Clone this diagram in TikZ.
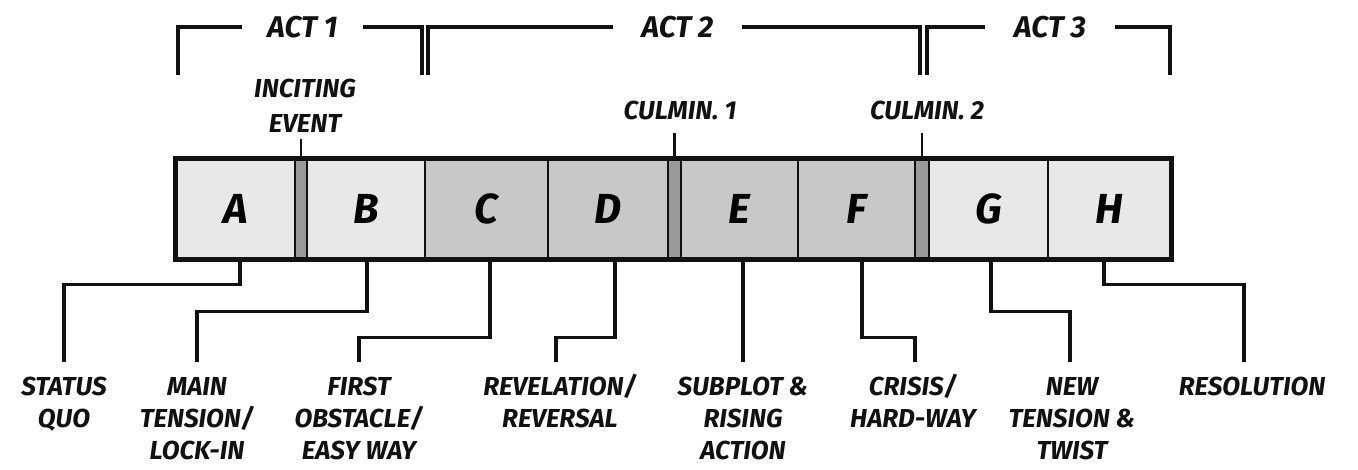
\documentclass[tikz,border=0pt]{standalone}
\usepackage{fontspec}
\setmainfont{Fira Sans}
\definecolor{segLight}{HTML}{E8E8E8}
\definecolor{segMid}{HTML}{C8C8C8}
\definecolor{segDark}{HTML}{9A9A9A}
\definecolor{ink}{HTML}{111111}
\newcommand\myslash{\smash{/}}
\begin{document}
\begin{tikzpicture}[x=1pt,y=-1pt,
  seg/.style={draw=ink, line width=2.6pt, minimum height=98pt, inner sep=0pt,
    font=\fontsize{42}{42}\selectfont\bfseries\itshape},
  light/.style={seg, fill=segLight},
  mid/.style={seg, fill=segMid},
  stripbox/.style={seg, fill=segDark},
  lab/.style={font=\fontsize{26}{32}\selectfont\bfseries\itshape, text=ink,
    align=center, inner xsep=0pt, inner ysep=15pt, anchor=north},
  marker/.style={font=\fontsize{26}{35}\selectfont\bfseries\itshape, text=ink,
    align=center, inner xsep=0pt},
  acttitle/.style={font=\fontsize{30}{30}\selectfont\bfseries\itshape, text=ink,
    inner sep=0pt},
  conn/.style={draw=ink, line width=3.2pt},
  brk/.style={draw=ink, line width=3.2pt},
  tick/.style={draw=ink, line width=2.4pt}]
\useasboundingbox (0,0) rectangle (1358,469);

% segments
\node[light,    minimum width=118pt] (A)  at (236,209)   {A};
\node[stripbox, minimum width=12pt]  (s1) at (301,209)   {};
\node[light,    minimum width=118pt] (B)  at (366,209)   {B};
\node[mid,      minimum width=123pt] (C)  at (486.5,209) {C};
\node[mid,      minimum width=120pt] (D)  at (608,209)   {D};
\node[stripbox, minimum width=13pt]  (s2) at (674.5,209) {};
\node[mid,      minimum width=117pt] (E)  at (739.5,209) {E};
\node[mid,      minimum width=117pt] (F)  at (856.5,209) {F};
\node[stripbox, minimum width=14pt]  (s3) at (922,209)   {};
\node[light,    minimum width=119pt] (G)  at (988.5,209) {G};
\node[light,    minimum width=122pt] (H)  at (1109,209)  {H};
\draw[ink, line width=4.6pt] (A.north west) rectangle (H.south east);

% act brackets
\node[acttitle, minimum width=121pt] (act1) at (302.5,27) {ACT 1};
\node[acttitle, minimum width=129pt] (act2) at (677.5,27) {ACT 2};
\node[acttitle, minimum width=130pt] (act3) at (1050,27)  {ACT 3};
\coordinate (b1l) at (178,75);
\coordinate (b1r) at (422,75);
\coordinate (b2l) at (428,75);
\coordinate (b2r) at (920,75);
\coordinate (b3l) at (927,75);
\coordinate (b3r) at (1170,75);
\draw[brk] (act1.west) -| (b1l);
\draw[brk] (act1.east) -| (b1r);
\draw[brk] (act2.west) -| (b2l);
\draw[brk] (act2.east) -| (b2r);
\draw[brk] (act3.west) -| (b3l);
\draw[brk] (act3.east) -| (b3r);

% markers
\node[marker, inner ysep=7pt] (ince) at (305,105.5) {INCITING\\EVENT};
\node[marker, inner ysep=13pt] (cul1) at (680,110) {CULMIN. 1};
\node[marker, inner ysep=13pt] (cul2) at (927,110) {CULMIN. 2};
\draw[tick] (s1.north) -- (s1.north |- ince.south);
\draw[tick] (s2.north) -- (s2.north |- cul1.south);
\draw[tick] (s3.north) -- (s3.north |- cul2.south);

% bottom labels
\node[lab] (lA) at (64,362)   {STATUS\\QUO};
\node[lab] (lB) at (197,362)  {MAIN\\TENSION\myslash\\LOCK-IN};
\node[lab] (lC) at (359,362)  {FIRST\\OBSTACLE\myslash\\EASY WAY};
\node[lab] (lD) at (560,362)  {REVELATION\myslash\\REVERSAL};
\node[lab] (lE) at (743,362)  {SUBPLOT \&\\RISING\\ACTION};
\node[lab] (lF) at (913,362)  {CRISIS\myslash\\HARD-WAY};
\node[lab] (lG) at (1072,362) {NEW\\TENSION \&\\TWIST};
\node[lab] (lH) at (1252,362) {RESOLUTION};

% connectors
\draw[conn] ([xshift=4pt]A.south)   -- ++(0,25) -| (lA.north);
\draw[conn] ([xshift=1pt]B.south)   -- ++(0,52) -| (lB.north);
\draw[conn] ([xshift=3.5pt]C.south) -- ++(0,78) -| (lC.north);
\draw[conn] ([xshift=7pt]D.south)   -- ++(0,78) -| ([xshift=-4pt]lD.north);
\draw[conn] ([xshift=3.5pt]E.south) -- (lE.north);
\draw[conn] ([xshift=5.5pt]F.south) -- ++(0,78) -| ([xshift=2pt]lF.north);
\draw[conn] ([xshift=2.5pt]G.south) -- ++(0,52) -| ([xshift=-2pt]lG.north);
\draw[conn] ([xshift=-5pt]H.south)  -- ++(0,25) -| ([xshift=-8pt]lH.north);
\end{tikzpicture}
\end{document}
